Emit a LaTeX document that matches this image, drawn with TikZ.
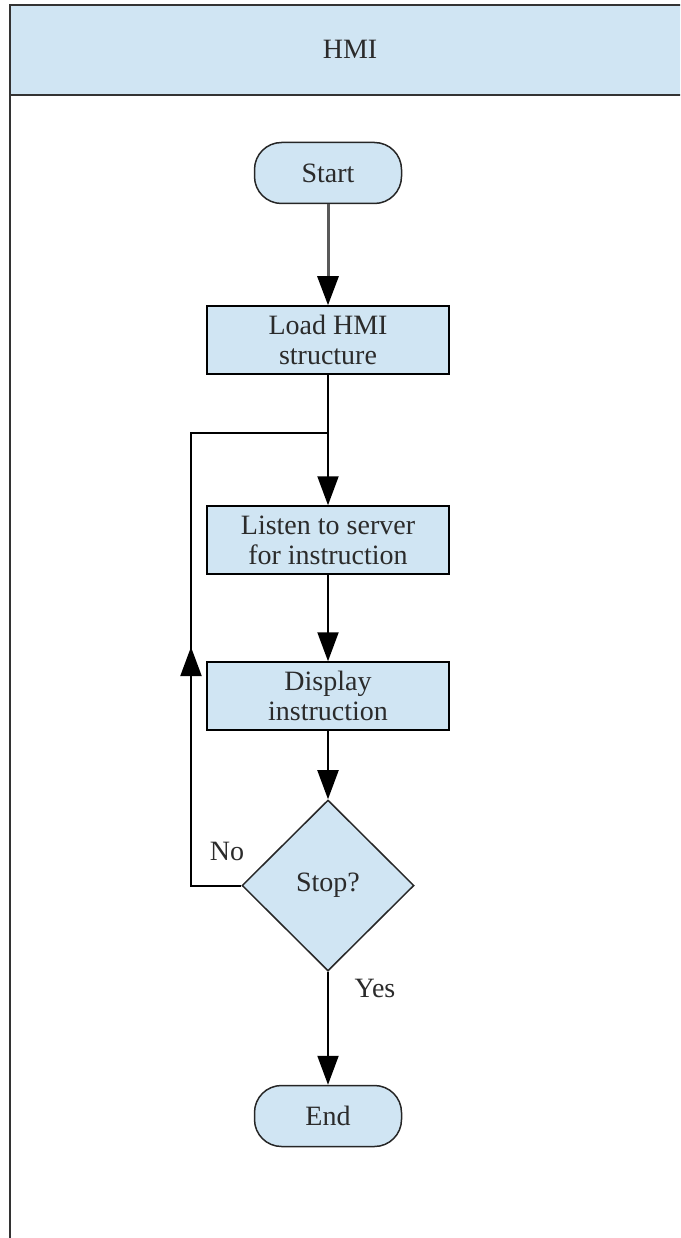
\documentclass[tikz,border=0pt]{standalone}
\usepackage{fontspec}
\setmainfont{Liberation Serif}
\usetikzlibrary{arrows.meta,shapes.geometric}
\definecolor{lane}{HTML}{D0E5F3}
\definecolor{ink}{HTML}{2B2B2B}
\begin{document}
\begin{tikzpicture}[x=1pt,y=-1pt,
  every node/.style={font=\fontsize{28}{30}\selectfont, text=ink},
  proc/.style={draw=black, line width=1.5pt, fill=lane, minimum width=242pt,
    minimum height=68pt, align=center, inner sep=0pt},
  term/.style={draw=black!85, line width=1.5pt, fill=lane, rectangle,
    rounded corners=27pt, minimum width=147pt, minimum height=61pt, inner sep=0pt},
  decide/.style={draw=black!85, line width=1.5pt, fill=lane, diamond, aspect=1,
    minimum width=172pt, minimum height=171pt, inner sep=0pt},
  link/.style={draw=black, line width=2pt},
  flow/.style={link, -{Triangle[length=29pt,width=21pt,color=black]}},
  lbl/.style={inner sep=0pt}]
\useasboundingbox (0,0) rectangle (680,1238);
\begin{scope}
\clip (0,0) rectangle (680,1238);
% swimlane header and frame
\fill[lane] (10,5) rectangle (700,95);
\draw[line width=2pt, black!80] (10,1250) -- (10,5) -- (700,5);
\draw[line width=2pt, black!80] (10,95) -- (700,95);
\end{scope}
\node (hdr) at (350,49) {HMI};

% flow nodes
\node[term] (start) at (328,173) {Start};
\node[proc] (load) at (328,340) {Load HMI\\structure};
\node[proc] (listen) at (328,540) {Listen to server\\for instruction};
\node[proc] (show) at (328,696) {Display\\instruction};
\node[decide] (stop) at (328,885.5) {Stop?};
\node[term] (end) at (328,1116) {End};

% loop-back route
\coordinate (jn) at (328,433);
\coordinate (lb) at (191,885.5);
\coordinate (lt) at (191,433);
\coordinate (lm) at (191,647);

% connectors
\draw[flow, draw=black!65, line width=3pt] (start) -- (load);
\draw[flow] (load) -- (listen);
\draw[flow] (listen) -- (show);
\draw[flow] (show) -- (stop);
\draw[flow] (stop) -- (end);
\draw[link] (stop.west) -- (lb) -- (lt) -- (jn);
\draw[flow] (lb) -- (lm);

% branch labels
\node[lbl] (no) at (227,851) {No};
\node[lbl] (yes) at (375,988) {Yes};
\end{tikzpicture}
\end{document}
